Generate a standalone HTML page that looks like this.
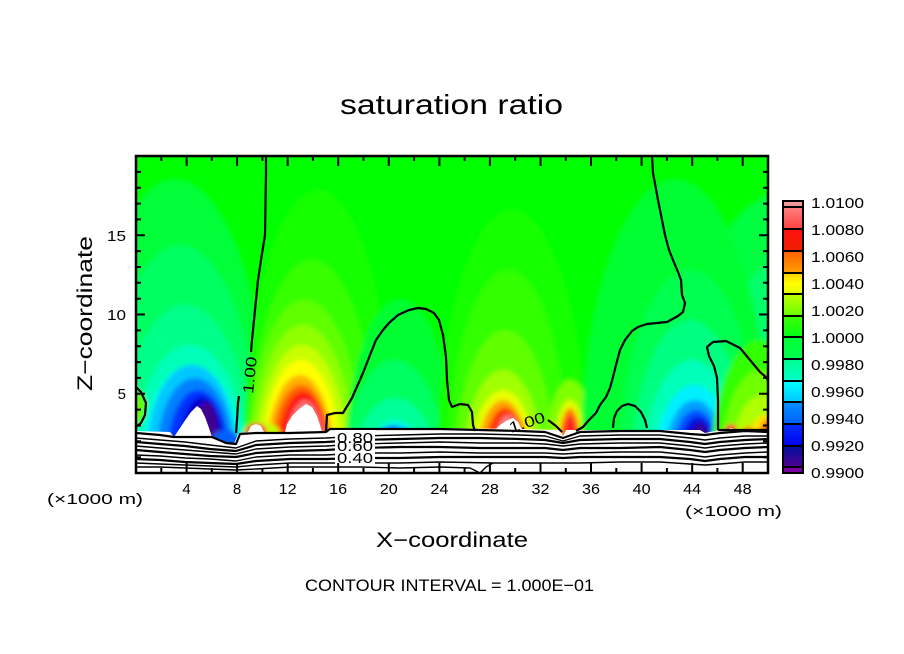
<!DOCTYPE html>
<html><head><meta charset="utf-8"><style>
html,body{margin:0;padding:0;background:#fff;width:904px;height:654px;overflow:hidden;}
svg{display:block;position:absolute;left:0;top:0;}
text{font-family:"Liberation Sans",sans-serif;fill:#000;}
</style></head><body>
<svg width="904" height="654" viewBox="0 0 904 654" xmlns="http://www.w3.org/2000/svg">
<defs>
<clipPath id="pc"><rect x="136" y="156" width="632" height="317"/></clipPath>
<filter id="bl" x="-20%" y="-20%" width="140%" height="140%"><feGaussianBlur stdDeviation="2.5"/></filter>
<linearGradient id="c0" x1="0" y1="0" x2="0" y2="1"><stop offset="0" stop-color="#f4a0a0"/><stop offset="1" stop-color="#f09090"/></linearGradient>
<linearGradient id="c1" x1="0" y1="0" x2="0" y2="1"><stop offset="0" stop-color="#ff8080"/><stop offset="1" stop-color="#ff4040"/></linearGradient>
<linearGradient id="c2" x1="0" y1="0" x2="0" y2="1"><stop offset="0" stop-color="#ff1010"/><stop offset="1" stop-color="#ee2000"/></linearGradient>
<linearGradient id="c3" x1="0" y1="0" x2="0" y2="1"><stop offset="0" stop-color="#ff6000"/><stop offset="1" stop-color="#ffa000"/></linearGradient>
<linearGradient id="c4" x1="0" y1="0" x2="0" y2="1"><stop offset="0" stop-color="#ffc800"/><stop offset="0.5" stop-color="#ffff00"/><stop offset="1" stop-color="#e0ff00"/></linearGradient>
<linearGradient id="c5" x1="0" y1="0" x2="0" y2="1"><stop offset="0" stop-color="#c0ff00"/><stop offset="1" stop-color="#68ff00"/></linearGradient>
<linearGradient id="c6" x1="0" y1="0" x2="0" y2="1"><stop offset="0" stop-color="#40ff00"/><stop offset="1" stop-color="#00ff18"/></linearGradient>
<linearGradient id="c7" x1="0" y1="0" x2="0" y2="1"><stop offset="0" stop-color="#00ff30"/><stop offset="1" stop-color="#00ff50"/></linearGradient>
<linearGradient id="c8" x1="0" y1="0" x2="0" y2="1"><stop offset="0" stop-color="#00ff90"/><stop offset="1" stop-color="#00ffc8"/></linearGradient>
<linearGradient id="c9" x1="0" y1="0" x2="0" y2="1"><stop offset="0" stop-color="#00ffff"/><stop offset="1" stop-color="#00c8ff"/></linearGradient>
<linearGradient id="c10" x1="0" y1="0" x2="0" y2="1"><stop offset="0" stop-color="#0090ff"/><stop offset="1" stop-color="#0060ff"/></linearGradient>
<linearGradient id="c11" x1="0" y1="0" x2="0" y2="1"><stop offset="0" stop-color="#0030ff"/><stop offset="1" stop-color="#0000f0"/></linearGradient>
<linearGradient id="c12" x1="0" y1="0" x2="0" y2="1"><stop offset="0" stop-color="#0010a0"/><stop offset="1" stop-color="#500090"/></linearGradient>
</defs>

<text x="340" y="114" font-size="28" textLength="223" lengthAdjust="spacingAndGlyphs">saturation ratio</text>

<g clip-path="url(#pc)">
 <g filter="url(#bl)">
  <rect x="110" y="130" width="680" height="360" fill="#00ff00"/>
  <ellipse cx="795" cy="330" rx="95" ry="140" fill="#00ff40"/>
  <ellipse cx="805" cy="335" rx="72" ry="85" fill="#00ff68"/>
  <!-- left column -->
  <path d="M80 470A95 290 0 0 1 270 470Z" fill="#00ff38"/>
  <path d="M100 470A80 225 0 0 1 260 470Z" fill="#00ff60"/>
  <path d="M117 470A68 165 0 0 1 253 470Z" fill="#00ff88"/>
  <path d="M132 470A58 125 0 0 1 248 470Z" fill="#00ffb8"/>
  <path d="M140 470A52 105 0 0 1 244 470Z" fill="#00ffe8"/>
  <ellipse cx="192" cy="455" rx="45" ry="90" fill="#00c8ff"/>
  <ellipse cx="195" cy="455" rx="38" ry="77" fill="#0080ff"/>
  <ellipse cx="198" cy="452" rx="30" ry="62" fill="#0030ff"/>
  <ellipse cx="202" cy="447" rx="22" ry="50" fill="#0000d0"/>
  <ellipse cx="206" cy="432" rx="12" ry="30" fill="#400090"/>
  <ellipse cx="226" cy="440" rx="14" ry="10" fill="#0060ff"/>
  <!-- yellow column 12km -->
  <path d="M243 470A75 280 0 0 1 393 470Z" fill="#18ff00"/>
  <path d="M247 470A65 210 0 0 1 377 470Z" fill="#38ff00"/>
  <path d="M247 470A58 170 0 0 1 363 470Z" fill="#60ff00"/>
  <path d="M251 470A52 145 0 0 1 355 470Z" fill="#90ff00"/>
  <path d="M256 470A46 125 0 0 1 348 470Z" fill="#c8ff00"/>
  <path d="M261 470A40 110 0 0 1 341 470Z" fill="#ffff00"/>
  <path d="M265 470A35 95 0 0 1 335 470Z" fill="#ffb000"/>
  <path d="M270 470A31 85 0 0 1 332 470Z" fill="#ff6000"/>
  <path d="M276 470A27 78 0 0 1 330 470Z" fill="#ff1010"/>
  <path d="M283 470A22 70 0 0 1 327 470Z" fill="#ff7070"/>
  <ellipse cx="262" cy="434" rx="18" ry="12" fill="#c0ff00"/>
  <ellipse cx="256" cy="433" rx="11" ry="10" fill="#ff3030"/>
  <!-- middle teal 20km -->
  <path d="M345 470A55 170 0 0 1 455 470Z" fill="#00ff30"/>
  <path d="M345 470A50 110 0 0 1 445 470Z" fill="#00ff60"/>
  <path d="M353 470A42 72 0 0 1 437 470Z" fill="#00ff98"/>
  <ellipse cx="395" cy="465" rx="30" ry="45" fill="#00ffd8"/>
  <ellipse cx="395" cy="445" rx="22" ry="20" fill="#00c0ff"/>
  <ellipse cx="392" cy="440" rx="14" ry="14" fill="#0050ff"/>
  <ellipse cx="465" cy="440" rx="18" ry="30" fill="#00ffa0"/>
  <ellipse cx="465" cy="440" rx="10" ry="15" fill="#00e0ff"/>
  <!-- column 28km -->
  <path d="M437 470A75 260 0 0 1 587 470Z" fill="#18ff00"/>
  <path d="M448 470A60 200 0 0 1 568 470Z" fill="#30ff00"/>
  <path d="M455 470A50 140 0 0 1 555 470Z" fill="#60ff00"/>
  <path d="M463 470A40 100 0 0 1 543 470Z" fill="#a0ff00"/>
  <path d="M470 470A33 80 0 0 1 536 470Z" fill="#e8ff00"/>
  <path d="M476 470A27 70 0 0 1 530 470Z" fill="#ffa000"/>
  <path d="M483 470A22 62 0 0 1 527 470Z" fill="#ff3000"/>
  <path d="M492 470A16 55 0 0 1 524 470Z" fill="#ff8080"/>
  <!-- column 34km -->
  <ellipse cx="570" cy="460" rx="25" ry="80" fill="#80ff00"/>
  <ellipse cx="570" cy="455" rx="16" ry="55" fill="#e0ff00"/>
  <ellipse cx="570" cy="450" rx="11" ry="42" fill="#ff8000"/>
  <ellipse cx="570" cy="445" rx="7" ry="30" fill="#ff2020"/>
  <!-- right blue column 44km -->
  <path d="M580 470A95 290 0 0 1 770 470Z" fill="#00ff30"/>
  <path d="M620 470A70 200 0 0 1 760 470Z" fill="#00ff50"/>
  <path d="M632 470A58 150 0 0 1 748 470Z" fill="#00ff80"/>
  <path d="M644 470A48 110 0 0 1 740 470Z" fill="#00ffb8"/>
  <path d="M654 470A40 85 0 0 1 734 470Z" fill="#00f0ff"/>
  <path d="M663 470A32 70 0 0 1 727 470Z" fill="#00a0ff"/>
  <ellipse cx="696" cy="465" rx="25" ry="55" fill="#0050ff"/>
  <ellipse cx="698" cy="455" rx="18" ry="38" fill="#0010e0"/>
  <ellipse cx="700" cy="445" rx="10" ry="22" fill="#300090"/>
  <!-- right yellow -->
  <path d="M710 470A50 130 0 0 1 810 470Z" fill="#30ff00"/>
  <path d="M720 470A40 100 0 0 1 800 470Z" fill="#70ff00"/>
  <path d="M730 470A32 75 0 0 1 794 470Z" fill="#b0ff00"/>
  <ellipse cx="765" cy="465" rx="20" ry="50" fill="#ffe000"/>
  <ellipse cx="767" cy="455" rx="10" ry="35" fill="#ff6000"/>
  <ellipse cx="731" cy="430" rx="6" ry="6" fill="#ff3030"/>
  <ellipse cx="748" cy="431" rx="5" ry="5" fill="#ff8000"/>
  <path d="M130 385 L141 392 L147 403 L145 415 L141 423 L130 428Z" fill="#60ff00"/>
 </g>
 <path fill="#fff" d="M136 431 L170 432 L174 437 L180 428 L186 419 L191 412 L197 406 L201 409 L205 417 L209 428 L212 437 L220 440 L226 443 L234 444 L238 434 L248 432 L326 432 L330 428 L440 428 L520 429 L560 430 L563 436 L566 430 L700 430 L705 433 L720 430 L768 429 L768 473 L136 473Z"/>
 <path fill="#fff" d="M285 432 L287 424 L292 416 L299 409 L306 404 L312 407 L317 416 L320 425 L322 432Z"/>
 <path fill="#fff" d="M495 430 L500 425 L506 421 L513 418 L518 422 L522 430Z"/>
 <path fill="#fff" d="M248 432 L251 426 L256 424 L261 426 L264 432Z"/>
 <circle cx="731" cy="431" r="3" fill="#fff"/>

 <g fill="none" stroke="#000" stroke-linejoin="round">
  <polyline stroke-width="2.2" points="136,433 160,435 174,437 212,437 226,443 236,444 240,434 256,433 290,433 326,432 330,429 360,429 400,429 440,429 480,430 520,431 545,432 563,438 580,432 620,431 660,431 690,434 705,435 720,433 745,431 768,432"/>
  <polyline stroke-width="1.4" points="136,438 160,440 185,442 210,445 236,448 256,441 290,439 326,438 360,436 400,435 440,434 480,434 520,435 545,436 563,441 580,436 620,435 660,435 690,438 705,440 720,438 745,436 768,436"/>
  <polyline stroke-width="2.2" points="136,442 160,444 185,446 210,449 236,451 256,445 290,443 326,442 360,440 400,439 440,438 480,438 520,439 545,440 563,443 580,440 620,439 660,439 690,442 705,444 720,442 745,440 768,439"/>
  <polyline stroke-width="1.4" points="136,446 160,448 185,450 210,452 236,454 256,449 290,447 326,446 360,444 400,443 440,442 480,443 520,443 545,444 563,446 580,444 620,443 660,443 690,446 705,448 720,446 745,444 768,443"/>
  <polyline stroke-width="2.2" points="136,450 160,452 185,454 210,456 236,457 256,453 290,451 326,450 360,448 400,447 440,447 480,448 520,448 545,448 563,450 580,448 620,448 660,447 690,450 705,452 720,450 745,448 768,447"/>
  <polyline stroke-width="1.4" points="136,455 160,456 185,458 210,459 236,461 256,457 290,455 326,455 360,453 400,453 440,452 480,453 520,453 545,453 563,454 580,453 620,452 660,452 690,455 705,457 720,455 745,453 768,452"/>
  <polyline stroke-width="2.2" points="136,459 160,460 185,462 210,463 236,464 256,461 290,459 326,459 360,458 400,458 440,457 480,457 520,457 545,457 563,458 580,457 620,457 660,457 690,459 705,461 720,459 745,457 768,457"/>
  <polyline stroke-width="1.4" points="136,463 160,464 185,465 210,466 236,467 256,465 290,463 326,463 360,463 400,463 440,462 493,463 520,463 545,463 563,463 580,463 620,462 660,462 690,464 705,465 720,464 745,462 768,462"/>
  <polyline stroke-width="1.4" points="136,467 160,467 185,468 210,469 236,470 256,469 290,467 326,467 360,467 400,468 440,467 470,468 480,473"/>
  <polyline stroke-width="1.4" points="480,473 486,467 493,463"/>
 </g>
 <rect x="335" y="430" width="40" height="35" fill="#fff"/>
 <text x="337" y="443" font-size="15" textLength="36" lengthAdjust="spacingAndGlyphs">0.80</text>
 <text x="337" y="451" font-size="15" textLength="36" lengthAdjust="spacingAndGlyphs">0.60</text>
 <text x="337" y="463" font-size="15" textLength="36" lengthAdjust="spacingAndGlyphs">0.40</text>

 <g fill="none" stroke="#000" stroke-width="2.2" stroke-linejoin="round">
  <path d="M266 156 L266 173 L265 235 L261 260 L258 280 L255 310 L252 340 L251 352"/>
  <path d="M239 396 L238 403 L237 420 L236 433"/>
  <path d="M326 432 L327 415 L335 413 L343 413 L352 398 L363 373 L370 355 L376 340 L383 330 L389 323 L398 315 L409 310 L418 308 L426 309 L434 313 L439 320 L443 335 L446 357 L447 380 L449 400 L452 407 L460 404 L468 405 L472 412 L473 425 L475 431"/>
  <path d="M652 156 L653 173 L658 200 L662 220 L665 235 L669 250 L673 260 L678 272 L681 280 L682 295 L685 303 L683 312 L678 316 L667 322 L647 324 L638 327 L632 331 L625 340 L620 350 L616 365 L613 377 L610 388 L606 397 L600 405 L596 413 L589 420 L583 427 L576 431"/>
  <path d="M613 428 L614 418 L617 411 L622 406 L628 404 L635 406 L641 412 L645 420 L647 428"/>
  <path d="M718 430 L718 400 L717 378 L714 366 L709 356 L707 347 L713 342 L726 341 L740 348 L750 360 L760 372 L767 378 L768 381"/>
  <path d="M136 387 L141 392 L146 403 L145 415 L141 423 L136 427"/>
  <path d="M548 420 L556 426 L562 432"/>
  <path d="M718 430 L768 430"/>
 </g>
 <text transform="translate(253,394) rotate(-84)" font-size="15" textLength="37" lengthAdjust="spacingAndGlyphs">1.00</text>
 <text transform="translate(511,433) rotate(-18)" font-size="15" textLength="37" lengthAdjust="spacingAndGlyphs">1.00</text>
</g>

<rect x="136" y="156" width="632" height="317" fill="none" stroke="#000" stroke-width="2.5"/>
<path fill="none" stroke="#000" stroke-width="2" d="
M186.6 156v10M237.1 156v10M287.7 156v10M338.2 156v10M388.8 156v10M439.4 156v10M489.9 156v10M540.5 156v10M591 156v10M641.6 156v10M692.2 156v10M742.7 156v10
M186.6 473v-10M237.1 473v-10M287.7 473v-10M338.2 473v-10M388.8 473v-10M439.4 473v-10M489.9 473v-10M540.5 473v-10M591 473v-10M641.6 473v-10M692.2 473v-10M742.7 473v-10
M161.3 156v5M211.8 156v5M262.4 156v5M312.9 156v5M363.5 156v5M414.1 156v5M464.6 156v5M515.2 156v5M565.8 156v5M616.3 156v5M666.9 156v5M717.4 156v5
M161.3 473v-5M211.8 473v-5M262.4 473v-5M312.9 473v-5M363.5 473v-5M414.1 473v-5M464.6 473v-5M515.2 473v-5M565.8 473v-5M616.3 473v-5M666.9 473v-5M717.4 473v-5
M136 393.8h9M136 314.5h9M136 235.3h9M768 393.8h-9M768 314.5h-9M768 235.3h-9
M136 457.2h5M136 441.3h5M136 425.5h5M136 409.6h5M136 377.9h5M136 362.1h5M136 346.2h5M136 330.4h5M136 298.7h5M136 282.8h5M136 267h5M136 251.1h5M136 219.4h5M136 203.6h5M136 187.7h5M136 171.9h5
M768 457.2h-5M768 441.3h-5M768 425.5h-5M768 409.6h-5M768 377.9h-5M768 362.1h-5M768 346.2h-5M768 330.4h-5M768 298.7h-5M768 282.8h-5M768 267h-5M768 251.1h-5M768 219.4h-5M768 203.6h-5M768 187.7h-5M768 171.9h-5"/>

<g font-size="15" text-anchor="middle">
<text x="186.6" y="494">4</text>
<text x="237.1" y="494">8</text>
<text x="287.7" y="494" textLength="18" lengthAdjust="spacingAndGlyphs">12</text>
<text x="338.2" y="494" textLength="18" lengthAdjust="spacingAndGlyphs">16</text>
<text x="388.8" y="494" textLength="18" lengthAdjust="spacingAndGlyphs">20</text>
<text x="439.4" y="494" textLength="18" lengthAdjust="spacingAndGlyphs">24</text>
<text x="489.9" y="494" textLength="18" lengthAdjust="spacingAndGlyphs">28</text>
<text x="540.5" y="494" textLength="18" lengthAdjust="spacingAndGlyphs">32</text>
<text x="591" y="494" textLength="18" lengthAdjust="spacingAndGlyphs">36</text>
<text x="641.6" y="494" textLength="18" lengthAdjust="spacingAndGlyphs">40</text>
<text x="692.2" y="494" textLength="18" lengthAdjust="spacingAndGlyphs">44</text>
<text x="742.7" y="494" textLength="18" lengthAdjust="spacingAndGlyphs">48</text>
</g>
<g font-size="15" text-anchor="end">
<text x="126" y="399">5</text>
<text x="126" y="320" textLength="19" lengthAdjust="spacingAndGlyphs">10</text>
<text x="126" y="241" textLength="19" lengthAdjust="spacingAndGlyphs">15</text>
</g>
<text x="47" y="504" font-size="15" textLength="96" lengthAdjust="spacingAndGlyphs">(×1000 m)</text>
<text x="685" y="516" font-size="15" textLength="97" lengthAdjust="spacingAndGlyphs">(×1000 m)</text>

<text x="376" y="547" font-size="21" textLength="152" lengthAdjust="spacingAndGlyphs">X−coordinate</text>
<text transform="translate(92,391) rotate(-90)" font-size="21" textLength="155" lengthAdjust="spacingAndGlyphs">Z−coordinate</text>
<text x="305" y="591" font-size="17" textLength="289" lengthAdjust="spacingAndGlyphs">CONTOUR INTERVAL = 1.000E−01</text>

<rect x="783" y="201" width="20" height="6" fill="url(#c0)"/>
<rect x="783" y="207" width="20" height="22" fill="url(#c1)"/>
<rect x="783" y="229" width="20" height="22" fill="url(#c2)"/>
<rect x="783" y="251" width="20" height="22" fill="url(#c3)"/>
<rect x="783" y="273" width="20" height="21" fill="url(#c4)"/>
<rect x="783" y="294" width="20" height="22" fill="url(#c5)"/>
<rect x="783" y="316" width="20" height="21" fill="url(#c6)"/>
<rect x="783" y="337" width="20" height="22" fill="url(#c7)"/>
<rect x="783" y="359" width="20" height="22" fill="url(#c8)"/>
<rect x="783" y="381" width="20" height="21" fill="url(#c9)"/>
<rect x="783" y="402" width="20" height="22" fill="url(#c10)"/>
<rect x="783" y="424" width="20" height="22" fill="url(#c11)"/>
<rect x="783" y="446" width="20" height="21" fill="url(#c12)"/>
<rect x="783" y="467" width="20" height="6" fill="#7a00a0"/>
<path stroke="#000" stroke-width="2" d="M783 207h20M783 229h20M783 251h20M783 273h20M783 294h20M783 316h20M783 337h20M783 359h20M783 381h20M783 402h20M783 424h20M783 446h20M783 467h20"/>
<rect x="783" y="201" width="20" height="272" fill="none" stroke="#000" stroke-width="2"/>
<g font-size="15">
<text x="811" y="208" textLength="53" lengthAdjust="spacingAndGlyphs">1.0100</text>
<text x="811" y="235" textLength="53" lengthAdjust="spacingAndGlyphs">1.0080</text>
<text x="811" y="262" textLength="53" lengthAdjust="spacingAndGlyphs">1.0060</text>
<text x="811" y="289" textLength="53" lengthAdjust="spacingAndGlyphs">1.0040</text>
<text x="811" y="316" textLength="53" lengthAdjust="spacingAndGlyphs">1.0020</text>
<text x="811" y="343" textLength="53" lengthAdjust="spacingAndGlyphs">1.0000</text>
<text x="811" y="370" textLength="53" lengthAdjust="spacingAndGlyphs">0.9980</text>
<text x="811" y="397" textLength="53" lengthAdjust="spacingAndGlyphs">0.9960</text>
<text x="811" y="424" textLength="53" lengthAdjust="spacingAndGlyphs">0.9940</text>
<text x="811" y="451" textLength="53" lengthAdjust="spacingAndGlyphs">0.9920</text>
<text x="811" y="478" textLength="53" lengthAdjust="spacingAndGlyphs">0.9900</text>
</g>
</svg>
</body></html>
